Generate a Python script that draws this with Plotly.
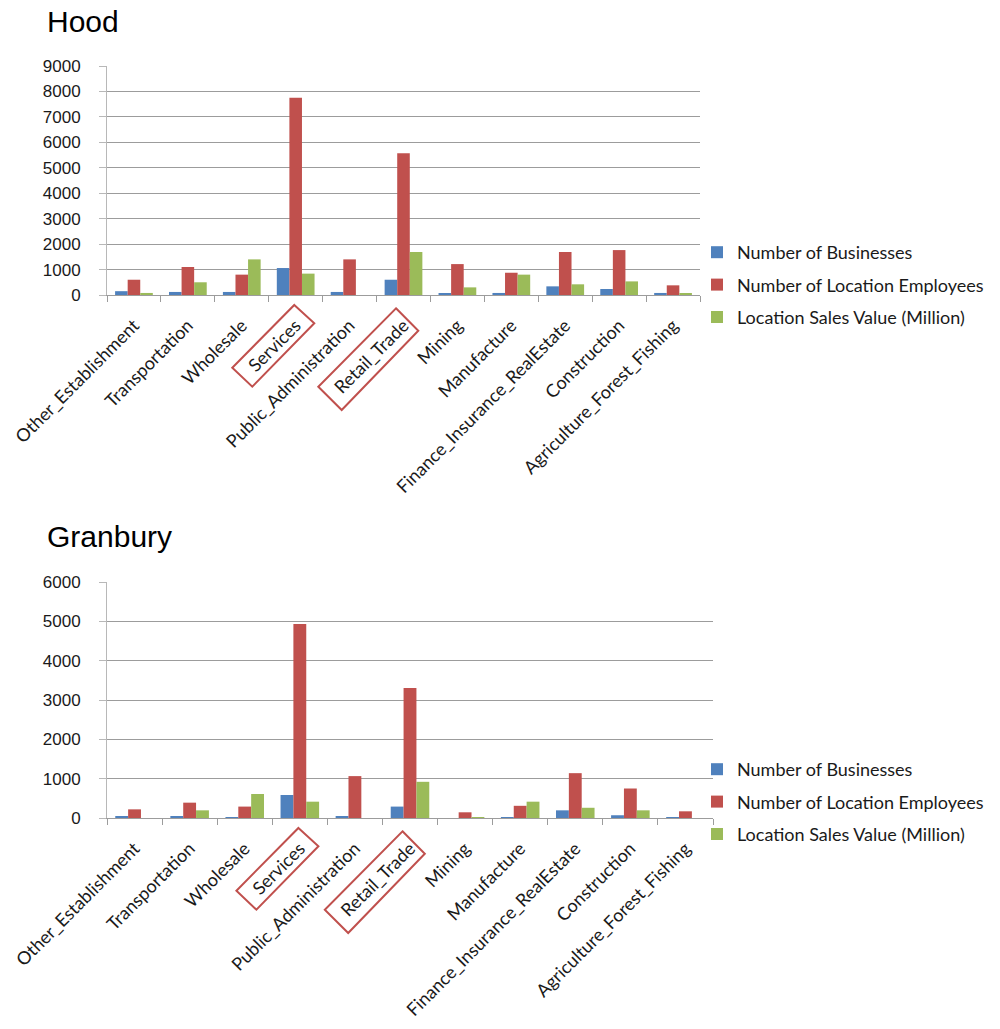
import plotly.graph_objects as go

# Industry categories shared by both areas
categories = [
    "Other_Establishment", "Transportation", "Wholesale", "Services",
    "Public_Administration", "Retail_Trade", "Mining", "Manufacture",
    "Finance_Insurance_RealEstate", "Construction", "Agriculture_Forest_Fishing",
]

series_names = [
    "Number of Businesses",
    "Number of Location Employees",
    "Location Sales Value (Million)",
]

# Hood
hood_businesses = [150, 120, 120, 1060, 120, 600, 40, 80, 340, 235, 80]
hood_employees = [600, 1100, 800, 7750, 1400, 5570, 1215, 875, 1690, 1765, 380]
hood_sales = [80, 500, 1400, 840, 0, 1690, 300, 800, 420, 535, 40]

# Granbury
granbury_businesses = [50, 50, 25, 585, 50, 290, 0, 25, 195, 70, 15]
granbury_employees = [220, 390, 290, 4935, 1065, 3305, 145, 310, 1140, 750, 170]
granbury_sales = [0, 195, 610, 415, 0, 920, 20, 415, 260, 195, 0]

hood_ticks = [0, 1000, 2000, 3000, 4000, 5000, 6000, 7000, 8000, 9000]
granbury_ticks = [0, 1000, 2000, 3000, 4000, 5000, 6000]

highlighted = ["Services", "Retail_Trade"]

colors = ["#4F81BD", "#C0504D", "#9BBB59"]
GRID = "#9C9C9C"
AXIS = "#B8B8B8"
LABEL_FONT = "Lato, 'Open Sans', sans-serif"
NUM_FONT = "'Liberation Sans', Arial, sans-serif"

W, H = 1000, 1029
AXIS_LEFT = 107
ML = AXIS_LEFT
PW = W - ML


def px_x(p):
    return (p - ML) / PW


def px_y(p):
    return 1 - p / H


fig = go.Figure()

hood_dom_x = [px_x(AXIS_LEFT), px_x(700)]
hood_dom_y = [px_y(295), px_y(66)]
gran_dom_x = [px_x(AXIS_LEFT), px_x(713)]
gran_dom_y = [px_y(818), px_y(582)]

panels = [
    ("x", "y", "legend", [hood_businesses, hood_employees, hood_sales]),
    ("x2", "y2", "legend2", [granbury_businesses, granbury_employees, granbury_sales]),
]
for xa, ya, lg, values in panels:
    for i, (name, vals) in enumerate(zip(series_names, values)):
        fig.add_trace(go.Bar(
            x=categories, y=vals, name=name, xaxis=xa, yaxis=ya,
            marker=dict(color=colors[i], line=dict(width=0)),
            legend=lg, legendgroup=f"{lg}-{i}",
        ))

xaxis_common = dict(
    type="category", categoryorder="array", categoryarray=categories,
    showgrid=False, showline=True, linecolor=GRID, linewidth=1,
    ticks="outside", tickson="boundaries", ticklen=6, tickcolor=GRID,
    tickangle=-45, tickfont=dict(family=LABEL_FONT, size=18, color="#1a1a1a"),
    ticklabelstandoff=12, zeroline=False, fixedrange=True, automargin=False,
)
yaxis_common = dict(
    showgrid=True, gridcolor=GRID, gridwidth=1,
    showline=True, linecolor=AXIS, linewidth=1,
    ticks="outside", ticklen=7, tickcolor=AXIS,
    tickfont=dict(family=NUM_FONT, size=17, color="#1a1a1a"),
    ticklabelstandoff=15, zeroline=False, fixedrange=True, automargin=False,
)

legend_common = dict(
    xanchor="left", yanchor="middle",
    font=dict(family=LABEL_FONT, size=18, color="#1a1a1a"),
    tracegroupgap=6, bgcolor="rgba(0,0,0,0)",
)

fig.update_layout(
    width=W, height=H,
    margin=dict(l=ML, r=0, t=0, b=0, autoexpand=False),
    paper_bgcolor="white", plot_bgcolor="white",
    bargap=0.3, bargroupgap=0,
    barmode="group",
    xaxis=dict(xaxis_common, domain=hood_dom_x, anchor="y"),
    yaxis=dict(yaxis_common, domain=hood_dom_y, range=[0, 9000],
               tickvals=hood_ticks, anchor="x"),
    xaxis2=dict(xaxis_common, domain=gran_dom_x, anchor="y2"),
    yaxis2=dict(yaxis_common, domain=gran_dom_y, range=[0, 6000],
                tickvals=granbury_ticks, anchor="x2"),
    legend=dict(legend_common, x=px_x(697), y=px_y(285)),
    legend2=dict(legend_common, x=px_x(697), y=px_y(802)),
    showlegend=True,
)

# Area titles
for text, ypix in [("Hood", 21), ("Granbury", 536)]:
    fig.add_annotation(
        text=text, xref="paper", yref="paper", x=px_x(45), y=px_y(ypix),
        xanchor="left", yanchor="middle", showarrow=False,
        font=dict(family=NUM_FONT, size=30, color="black"),
    )

# Red outlines around the highlighted category labels
# (corner offsets in pixels from the category centre on the zero line)
outline_corners = {
    "Services": [(-1.4, 10), (18.6, 28.3), (-43.4, 91.7), (-63.4, 72.7)],
    "Retail_Trade": [(-7.5, 13.3), (14.8, 35.7), (-61.8, 115), (-85.2, 91.7)],
}
n = len(categories)
for dom_x, dom_y in [(hood_dom_x, hood_dom_y), (gran_dom_x, gran_dom_y)]:
    for cat in highlighted:
        idx = categories.index(cat)
        anchor_x = dom_x[0] + (idx + 0.5) / n * (dom_x[1] - dom_x[0])
        pts = outline_corners[cat]
        path = "M " + " L ".join(f"{dx},{-dy}" for dx, dy in pts) + " Z"
        fig.add_shape(
            type="path", path=path, xref="paper", yref="paper",
            xsizemode="pixel", ysizemode="pixel",
            xanchor=anchor_x, yanchor=dom_y[0],
            line=dict(color="#C0504D", width=2), fillcolor="rgba(0,0,0,0)",
        )

fig.write_html("out.html")
